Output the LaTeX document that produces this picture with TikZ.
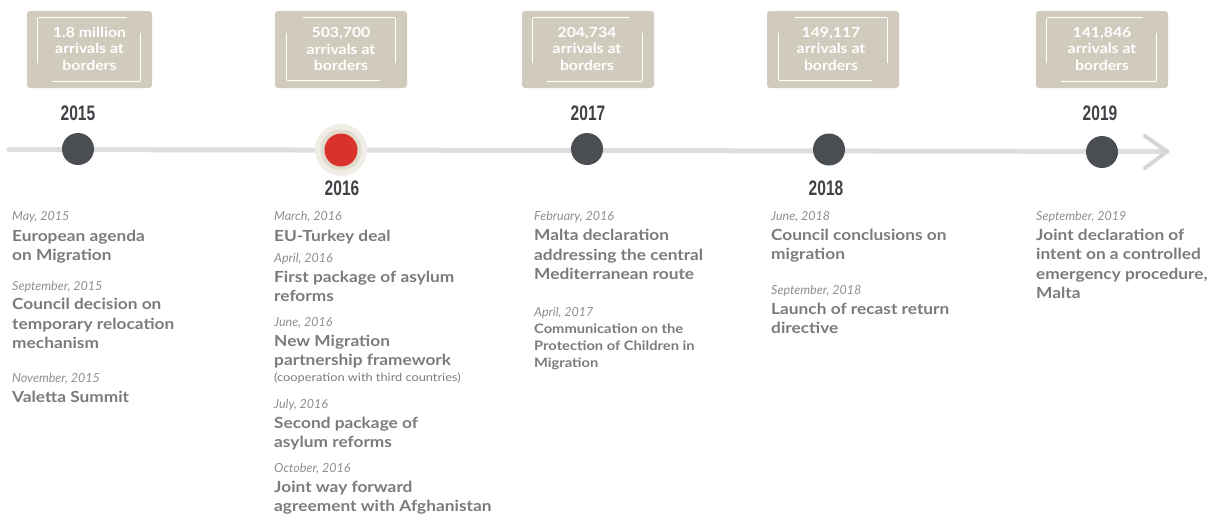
\documentclass[tikz,border=0pt]{standalone}
\usepackage{fontspec}
\setmainfont{Lato}
\newfontfamily\widefont[FakeStretch=1.13]{Lato}
\newfontfamily\yearfont[FakeStretch=0.74]{Liberation Sans}
\usetikzlibrary{calc}
\definecolor{boxbeige}{HTML}{D1CBBD}
\definecolor{dotdark}{HTML}{4A4D51}
\definecolor{dotred}{HTML}{D8322B}
\definecolor{halo1}{HTML}{F0EDE7}
\definecolor{halo2}{HTML}{E2DCCF}
\definecolor{linegray}{HTML}{DEDEDE}
\definecolor{arrowgray}{HTML}{D6D6D6}
\definecolor{titlegray}{HTML}{7B7B7B}
\definecolor{dategray}{HTML}{8E8E8E}
\definecolor{yeargray}{HTML}{3F4246}
\newcommand\frameTLBR[1]{%
  \draw[framew] ($(#1.north west)+(11,7)$) -- ($(#1.north east)+(-25,7)$);
  \draw[framew] ($(#1.north west)+(11,7)$) -- ($(#1.north west)+(11,52)$);
  \draw[framew] ($(#1.south west)+(25,-7)$) -- ($(#1.south east)+(-12,-7)$);
  \draw[framew] ($(#1.north east)+(-12,22)$) -- ($(#1.south east)+(-12,-7)$);}
\newcommand\frameTRBL[1]{%
  \draw[framew] ($(#1.north west)+(28,7)$) -- ($(#1.north east)+(-12,7)$);
  \draw[framew] ($(#1.north east)+(-12,7)$) -- ($(#1.north east)+(-12,52)$);
  \draw[framew] ($(#1.south west)+(12,-8)$) -- ($(#1.south east)+(-27,-8)$);
  \draw[framew] ($(#1.north west)+(12,22)$) -- ($(#1.south west)+(12,-8)$);}
\begin{document}
\begin{tikzpicture}[x=1pt,y=-1pt,
  arrbox/.style={fill=boxbeige, rounded corners=3pt, minimum height=77pt, inner sep=0pt},
  arrtext/.style={text=white, align=center, inner sep=0pt, font=\widefont\fontsize{14}{16.5}\selectfont\bfseries},
  framew/.style={draw=white, line width=1.1pt},
  dotd/.style={circle, fill=dotdark, minimum size=32pt, inner sep=0pt},
  year/.style={anchor=base, text=yeargray, inner sep=0pt, font=\yearfont\fontsize{21}{21}\selectfont\bfseries},
  date/.style={anchor=base west, inner sep=0pt, text=dategray, font=\fontsize{12.5}{14}\selectfont\itshape},
  ttl/.style={anchor=base west, inner sep=0pt, text=titlegray, font=\widefont\fontsize{15.3}{18}\selectfont\bfseries},
  ttls/.style={anchor=base west, inner sep=0pt, text=titlegray, font=\widefont\fontsize{13}{16}\selectfont\bfseries},
  note/.style={anchor=base west, inner sep=0pt, text=titlegray, font=\widefont\fontsize{11.3}{12}\selectfont}]
\useasboundingbox (0,0) rectangle (1209,515);

% timeline
\coordinate (lstart) at (9,149.5);
\coordinate (lend) at (1167,151.5);
\coordinate (armup) at (1145,136);
\coordinate (armdn) at (1145,168);
\draw[linegray, line width=5pt, line cap=round] (lstart) -- (lend);
\draw[arrowgray, line width=4pt, line cap=round, line join=round] (armup) -- (lend) -- (armdn);

% dots
\node[dotd] (d15) at (78,149) {};
\node[circle, fill=halo1, minimum size=52pt, inner sep=0pt] (h16) at (341,150) {};
\node[circle, fill=halo2, minimum size=41pt, inner sep=0pt] (h16b) at (341,150) {};
\node[circle, fill=dotred, minimum size=33pt, inner sep=0pt] (d16) at (341,150) {};
\node[dotd] (d17) at (587,149) {};
\node[dotd] (d18) at (829,149.5) {};
\node[dotd] (d19) at (1102,152) {};

% years
\node[year] (y15) at (78,120.5) {2015};
\node[year] (y16) at (342,195.5) {2016};
\node[year] (y17) at (588,120.5) {2017};
\node[year] (y18) at (826,195.5) {2018};
\node[year] (y19) at (1100,120.5) {2019};

% arrival boxes
\node[arrbox, minimum width=125pt] (b1) at (89.5,49.5) {};
\node[arrtext] (t1) at (89.5,48.5) {1.8 million\\arrivals at\\borders};
\frameTLBR{b1}
\node[arrbox, minimum width=132pt] (b2) at (341,49.5) {};
\node[arrtext] (t2) at (341,49) {503,700\\arrivals at\\borders};
\frameTRBL{b2}
\node[arrbox, minimum width=132pt] (b3) at (588,49.5) {};
\node[arrtext] (t3) at (587,48.5) {204,734\\arrivals at\\borders};
\frameTLBR{b3}
\node[arrbox, minimum width=132pt] (b4) at (833,49.5) {};
\node[arrtext] (t4) at (831,48.5) {149,117\\arrivals at\\borders};
\frameTRBL{b4}
\node[arrbox, minimum width=132pt] (b5) at (1102,49.5) {};
\node[arrtext] (t5) at (1102,48.5) {141,846\\arrivals at\\borders};
\frameTLBR{b5}

% column 2015
\node[date] (a1) at (12,220.5) {May, 2015};
\node[ttl] (a2) at (12,241) {European agenda};
\node[ttl] (a3) at (12,260.5) {on Migration};
\node[date] (a4) at (12,290.5) {September, 2015};
\node[ttl] (a5) at (12,309.5) {Council decision on};
\node[ttl] (a6) at (12,329) {temporary relocation};
\node[ttl] (a7) at (12,348.5) {mechanism};
\node[date] (a8) at (12,382.5) {November, 2015};
\node[ttl] (a9) at (12,402) {Valetta Summit};

% column 2016
\node[date] (b01) at (274,220.5) {March, 2016};
\node[ttl] (b02) at (274,241) {EU-Turkey deal};
\node[date] (b03) at (274,262.5) {April, 2016};
\node[ttl] (b04) at (274,282) {First package of asylum};
\node[ttl] (b05) at (274,301.5) {reforms};
\node[date] (b06) at (274,326.5) {June, 2016};
\node[ttl] (b07) at (274,346) {New Migration};
\node[ttl] (b08) at (274,365.5) {partnership framework};
\node[note] (b09) at (274,381) {(cooperation with third countries)};
\node[date] (b10) at (274,408.5) {July, 2016};
\node[ttl] (b11) at (274,428) {Second package of};
\node[ttl] (b12) at (274,447.5) {asylum reforms};
\node[date] (b13) at (274,472.5) {October, 2016};
\node[ttl] (b14) at (274,492) {Joint way forward};
\node[ttl] (b15) at (274,511.5) {agreement with Afghanistan};

% column 2017
\node[date] (c1) at (534,220.5) {February, 2016};
\node[ttl] (c2) at (534,240.5) {Malta declaration};
\node[ttl] (c3) at (534,260) {addressing the central};
\node[ttl] (c4) at (534,279.5) {Mediterranean route};
\node[date] (c5) at (534,316.5) {April, 2017};
\node[ttls] (c6) at (534,333.5) {Communication on the};
\node[ttls] (c7) at (534,350.5) {Protection of Children in};
\node[ttls] (c8) at (534,367.5) {Migration};

% column 2018
\node[date] (e1) at (771,220.5) {June, 2018};
\node[ttl] (e2) at (771,240.5) {Council conclusions on};
\node[ttl] (e3) at (771,259.5) {migration};
\node[date] (e4) at (771,294.5) {September, 2018};
\node[ttl] (e5) at (771,314) {Launch of recast return};
\node[ttl] (e6) at (771,333) {directive};

% column 2019
\node[date] (f1) at (1036,220.5) {September, 2019};
\node[ttl] (f2) at (1036,240.5) {Joint declaration of};
\node[ttl] (f3) at (1036,259.5) {intent on a controlled};
\node[ttl] (f4) at (1036,279) {emergency procedure,};
\node[ttl] (f5) at (1036,298.5) {Malta};
\end{tikzpicture}
\end{document}
